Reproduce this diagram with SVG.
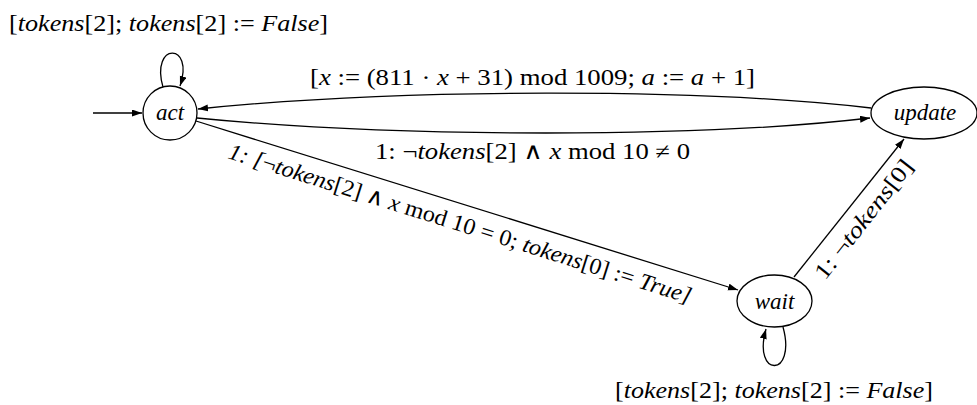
<svg xmlns="http://www.w3.org/2000/svg" width="977" height="405" viewBox="0 0 977 405">
<defs>
<marker id="ah" markerWidth="11" markerHeight="8" refX="10" refY="3.5" orient="auto" markerUnits="userSpaceOnUse">
<path d="M0,0 L10,3.5 L0,7 z" fill="#000"/>
</marker>
<style>
.t { font-family: "Liberation Serif", "DejaVu Serif", serif; font-size: 23px; fill: #000; }
.i { font-style: italic; }
.node { fill: #fff; stroke: #000; stroke-width: 1.3; }
.e { fill: none; stroke: #000; stroke-width: 1.3; marker-end: url(#ah); }
</style>
</defs>
<rect width="977" height="405" fill="#fff"/>
<g id="connectors">
<path class="e" d="M 93,113 L 142,113"/>
<path class="e" d="M 163,87 C 150,42 195,42 180,86"/>
<path class="e" d="M 871,108 C 700,88 400,88 198,109"/>
<path class="e" d="M 197,118 C 400,138 700,138 870,118"/>
<path class="e" d="M 196,121 L 738,290"/>
<path class="e" d="M 794,277 L 904,139"/>
<path class="e" d="M 783,327 C 797,378 752,378 766,329"/>
</g>
<g id="act">
<circle class="node" cx="170" cy="113" r="27"/>
<text class="t i" x="170" y="120" text-anchor="middle">act</text>
</g>
<g id="update">
<ellipse class="node" cx="924" cy="113" rx="53" ry="26"/>
<text class="t i" x="925" y="120" text-anchor="middle">update</text>
</g>
<g id="wait">
<ellipse class="node" cx="774.5" cy="301" rx="37.5" ry="26"/>
<text class="t i" x="774.5" y="309" text-anchor="middle">wait</text>
</g>
<g id="labels">
<text class="t" x="9" y="31" textLength="319" lengthAdjust="spacingAndGlyphs">[<tspan class="i">tokens</tspan>[2]; <tspan class="i">tokens</tspan>[2] := <tspan class="i">False</tspan>]</text>
<text class="t" x="615" y="398" textLength="318" lengthAdjust="spacingAndGlyphs">[<tspan class="i">tokens</tspan>[2]; <tspan class="i">tokens</tspan>[2] := <tspan class="i">False</tspan>]</text>
<text class="t" x="310" y="85" textLength="445" lengthAdjust="spacingAndGlyphs">[<tspan class="i">x</tspan> := (811 · <tspan class="i">x</tspan> + 31)  mod 1009; <tspan class="i">a</tspan> := <tspan class="i">a</tspan> + 1]</text>
<text class="t" x="375" y="159" textLength="315" lengthAdjust="spacingAndGlyphs">1:  ¬<tspan class="i">tokens</tspan>[2] ∧ <tspan class="i">x</tspan> mod 10 ≠ 0</text>
<text class="t" transform="translate(227,158) rotate(17.5)" x="0" y="0" textLength="484" lengthAdjust="spacingAndGlyphs"><tspan class="i">1:  [</tspan>¬<tspan class="i">tokens</tspan>[2] ∧ <tspan class="i">x</tspan> mod 10 = 0; <tspan class="i">tokens</tspan>[0] := <tspan class="i">True]</tspan></text>
<text class="t" transform="translate(825,281) rotate(-52)" x="0" y="0" textLength="145" lengthAdjust="spacingAndGlyphs">1:  ¬<tspan class="i">tokens</tspan>[0]</text>
</g>
</svg>
